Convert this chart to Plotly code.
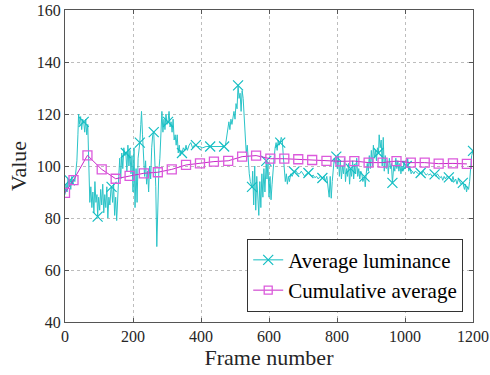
import plotly.graph_objects as go

# Average luminance per frame
lum_frames = [0, 3, 6, 9, 12, 14, 17, 20, 23, 26, 29, 32, 35, 38, 40, 43, 46, 49, 52, 55, 58, 61, 64, 67, 70, 73, 76, 79, 82, 85, 88, 91, 94, 96, 99, 102, 105, 108, 111, 114, 117, 120, 123, 126, 129, 132, 135, 137, 140, 143, 146, 149, 152, 155, 158, 161, 164, 167, 170, 173, 176, 179, 182, 185, 188, 191, 194, 197, 200, 203, 206, 209, 212, 215, 220, 223, 225, 228, 231, 234, 237, 240, 243, 246, 249, 252, 255, 258, 261, 264, 267, 270, 273, 276, 279, 282, 285, 288, 291, 294, 297, 300, 303, 306, 309, 312, 315, 318, 321, 324, 327, 330, 333, 336, 339, 341, 344, 348, 352, 356, 360, 365, 370, 375, 380, 385, 390, 395, 405, 415, 427, 440, 455, 468, 472, 476, 479, 482, 485, 488, 491, 494, 497, 500, 503, 506, 509, 512, 515, 518, 521, 524, 527, 530, 533, 536, 539, 542, 545, 550, 552, 555, 558, 561, 564, 567, 570, 573, 576, 579, 582, 585, 588, 592, 594, 597, 600, 603, 606, 609, 612, 615, 618, 621, 624, 627, 630, 633, 636, 639, 642, 645, 648, 651, 654, 657, 660, 664, 668, 674, 680, 685, 690, 695, 700, 705, 710, 716, 720, 725, 730, 735, 740, 745, 750, 757, 762, 766, 770, 774, 777, 780, 783, 786, 789, 792, 795, 798, 801, 804, 807, 810, 813, 816, 819, 822, 825, 828, 831, 834, 837, 840, 843, 846, 849, 852, 855, 858, 861, 864, 867, 870, 873, 876, 881, 883, 886, 889, 892, 895, 898, 901, 904, 907, 910, 913, 916, 919, 922, 924, 927, 930, 933, 936, 939, 942, 945, 948, 951, 954, 957, 960, 963, 967, 970, 973, 976, 979, 982, 985, 988, 991, 994, 997, 1001, 1005, 1008, 1011, 1014, 1018, 1022, 1026, 1030, 1035, 1040, 1046, 1050, 1054, 1058, 1062, 1066, 1070, 1075, 1080, 1087, 1091, 1095, 1099, 1103, 1107, 1111, 1115, 1119, 1123, 1129, 1133, 1137, 1141, 1145, 1149, 1153, 1157, 1161, 1165, 1170, 1175, 1178, 1181, 1184, 1187, 1190, 1193, 1196, 1200]
lum_values = [89, 93, 90, 95, 92, 94.5, 91, 96, 93, 95, 94, 97, 102, 112, 120, 116, 119, 114, 118, 117, 113, 118, 112, 116, 104, 86, 92, 84, 90, 82, 94, 86, 89, 80.5, 88, 83, 91, 85, 93, 82, 89, 84, 92, 80, 88, 85, 91, 92, 86, 93, 81, 88, 79, 90, 96, 103, 95, 105, 99, 107, 104, 105, 98, 108, 100, 106, 97, 104, 90, 107, 84, 99, 86, 103, 109, 116, 121, 112, 104, 96, 102, 93, 98, 90, 100, 95, 107, 112, 113, 100, 92, 69, 85, 98, 103, 112, 121, 113, 118, 114, 120, 116, 117, 121, 115, 117, 113, 118, 110, 112, 108, 112, 105, 108, 104, 106, 105, 107, 106, 108, 106, 108, 109, 107, 108, 108, 107.5, 107.5, 107, 107.5, 107.5, 107.5, 107.5, 107.5, 108, 112, 115, 117, 114, 118, 116, 119, 121, 118, 124, 122, 131, 126, 128, 121, 129, 126, 120, 112, 105, 108, 101, 97, 94, 92, 98, 85, 100, 83, 96, 86, 81, 94, 84, 97, 88, 99, 90, 102, 95, 101, 88, 96, 87, 93, 100, 103, 107, 109, 106, 110, 108, 109, 111, 110, 104, 100, 94, 97, 93, 96, 94, 97, 96, 97.8, 98, 97, 97, 98, 97, 96, 97, 97.3, 97, 96, 96.5, 95.5, 96, 95, 96, 95.4, 96, 94, 96, 92, 88, 96, 87.6, 94, 99, 103, 101, 103.6, 99, 104, 96, 102, 95, 100, 97, 103, 94, 99, 96, 101, 93, 99, 96, 102, 95, 100, 97, 103, 96, 99, 95, 98, 97, 94, 95.9, 92, 97, 101, 98, 104, 99, 106, 100, 108, 103, 106, 102, 107, 105, 112, 107, 110, 100, 111, 98, 104, 99, 102, 97, 103, 99, 101, 93.5, 100, 98, 103, 99, 102, 98, 101, 97, 100, 98, 102, 99, 100, 103, 98, 100, 97, 98, 97, 98, 97.5, 97, 97.3, 97, 98, 97, 96.5, 97, 96.5, 97, 96, 96.8, 96, 97, 96, 95.5, 96, 94.5, 96, 95, 96, 95.6, 95, 94, 96, 94, 95, 93, 95, 94, 93, 93.5, 91, 93, 90, 92, 91, 94, 100, 104, 105.8]
lum_marker_frames = [14, 55, 96, 137, 179, 220, 261, 303, 344, 385, 427, 468, 509, 550, 592, 633, 674, 716, 757, 798, 840, 881, 922, 963, 1005, 1046, 1087, 1129, 1170, 1200]

# Cumulative average
cum_frames = [0, 25, 66, 108, 149, 190, 232, 273, 314, 356, 397, 438, 480, 521, 562, 604, 645, 686, 727, 769, 810, 851, 893, 934, 975, 1017, 1058, 1099, 1141, 1182]
cum_values = [89.7, 94.6, 104.1, 98.7, 95.1, 96.2, 97.2, 97.6, 98.7, 100.4, 101.0, 101.7, 102.0, 103.6, 104.0, 102.8, 102.8, 102.6, 102.3, 102.0, 101.8, 101.9, 101.3, 101.3, 101.9, 101.3, 101.3, 100.9, 101.0, 100.8]

x_ticks = [0, 200, 400, 600, 800, 1000, 1200]
y_ticks = [40, 60, 80, 100, 120, 140, 160]

lookup = dict(zip(lum_frames, lum_values))
lum_marker_values = [lookup[f] for f in lum_marker_frames]

CYAN = "rgb(20,190,195)"
MAG = "rgb(200,40,200)"
MAG_M = "rgb(220,90,220)"
FONT = "Liberation Serif, Times New Roman, serif"
TXT = "#262626"

fig = go.Figure()
fig.add_trace(go.Scatter(x=lum_frames, y=lum_values, mode="lines",
                         line=dict(color=CYAN, width=1), opacity=0.9,
                         showlegend=False, hoverinfo="skip"))
fig.add_trace(go.Scatter(x=lum_marker_frames, y=lum_marker_values, mode="markers",
                         marker=dict(symbol="x-thin-open", size=10, color=CYAN,
                                     line=dict(color=CYAN, width=1.2)),
                         showlegend=False))
fig.add_trace(go.Scatter(x=cum_frames, y=cum_values, mode="lines+markers",
                         line=dict(color=MAG, width=1),
                         marker=dict(symbol="square-open", size=9, color=MAG_M,
                                     line=dict(color=MAG_M, width=1.3)),
                         showlegend=False))
# legend entries
fig.add_trace(go.Scatter(x=[None], y=[None], mode="lines+markers", name="Average luminance",
                         line=dict(color=CYAN, width=1),
                         marker=dict(symbol="x-thin-open", size=10, color=CYAN,
                                     line=dict(color=CYAN, width=1.2))))
fig.add_trace(go.Scatter(x=[None], y=[None], mode="lines+markers", name="Cumulative average",
                         line=dict(color=MAG, width=1),
                         marker=dict(symbol="square-open", size=8, color=MAG_M,
                                     line=dict(color=MAG_M, width=1.3))))

axis_common = dict(showline=True, linecolor="#555555", linewidth=1, mirror="allticks",
                   ticks="inside", ticklen=4, tickcolor="#555555",
                   showgrid=True, gridcolor="#bdbdbd", griddash="dot", gridwidth=1,
                   zeroline=False, tickfont=dict(family=FONT, size=16, color=TXT))

fig.update_layout(
    width=490, height=375,
    margin=dict(l=65, r=17, t=10, b=53, autoexpand=False),
    paper_bgcolor="white", plot_bgcolor="white",
    font=dict(family=FONT, color=TXT),
    xaxis=dict(range=[0, 1200], tickvals=x_ticks,
               title=dict(text="Frame number", font=dict(family=FONT, size=22, color=TXT), standoff=2),
               automargin=False, **axis_common),
    yaxis=dict(range=[40, 160], tickvals=y_ticks,
               title=dict(text="Value", font=dict(family=FONT, size=22, color=TXT), standoff=4),
               automargin=False, **axis_common),
    legend=dict(x=0.976, xanchor="right", y=0.033, yanchor="bottom",
                bgcolor="white", bordercolor="#333333", borderwidth=1,
                font=dict(family=FONT, size=21, color="#000000"),
                tracegroupgap=0, itemwidth=30),
)

fig.write_html("out.html", config={"displayModeBar": False},
               post_script="document.body.style.margin='0';document.body.style.padding='0';document.body.style.overflow='hidden';")
